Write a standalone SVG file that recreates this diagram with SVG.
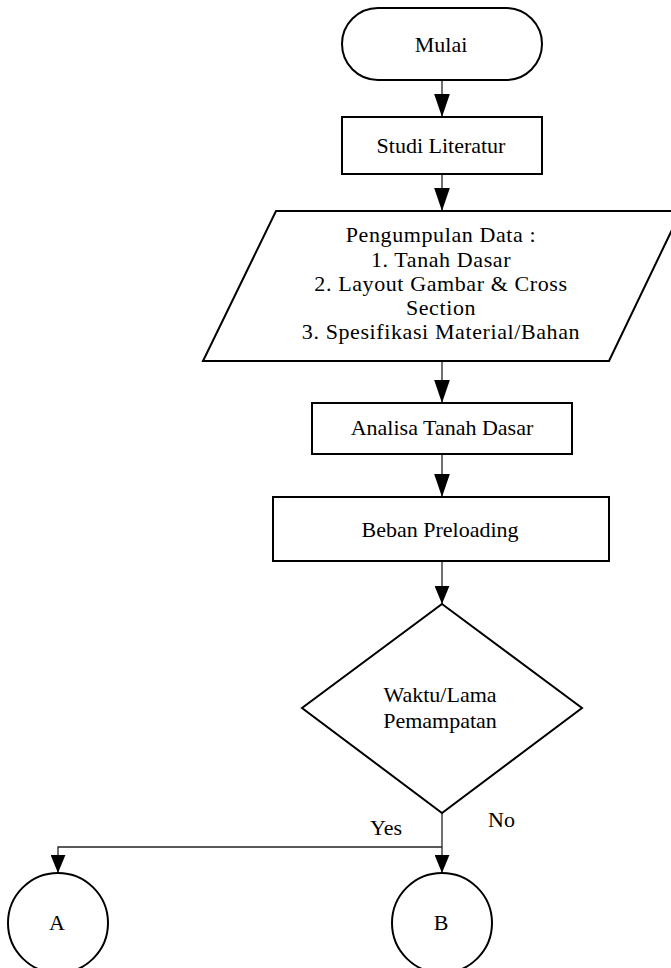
<svg xmlns="http://www.w3.org/2000/svg" width="671" height="968" viewBox="0 0 671 968">
<style>
.shape{fill:#fff;stroke:#000;stroke-width:2}
.conn{fill:none;stroke:#222;stroke-width:1.3}
.t{font-family:"Liberation Serif","Times New Roman",serif;font-size:22px;fill:#000;text-anchor:middle}
.ts{font-family:"Liberation Serif","Times New Roman",serif;font-size:22px;fill:#000}
.tp{letter-spacing:0.6px}
</style>
<defs>
<marker id="arr" markerUnits="userSpaceOnUse" markerWidth="16" markerHeight="23" refX="7.5" refY="22" viewBox="0 0 15 22">
<path d="M0,0 L15,0 L7.5,22 Z" fill="#000"/>
</marker>
<marker id="arrS" markerUnits="userSpaceOnUse" markerWidth="15" markerHeight="18" refX="7" refY="17" viewBox="0 0 14 17">
<path d="M0,0 L14,0 L7,17 Z" fill="#000"/>
</marker>
</defs>
<rect width="671" height="968" fill="#fff"/>
<g id="connectors">
<path class="conn" d="M442,80 V117" marker-end="url(#arr)"/>
<path class="conn" d="M442,174 V211" marker-end="url(#arr)"/>
<path class="conn" d="M442,361 V403" marker-end="url(#arr)"/>
<path class="conn" d="M442,454 V497" marker-end="url(#arr)"/>
<path class="conn" d="M442,561 V604" marker-end="url(#arrS)"/>
<path class="conn" d="M442,813 V873" marker-end="url(#arrS)"/>
<path class="conn" d="M442,847 H58 V873" marker-end="url(#arrS)"/>
<text class="ts" x="370" y="835">Yes</text>
<text class="ts" x="488" y="827">No</text>
</g>
<g id="mulai">
<rect class="shape" x="342" y="8" width="200" height="72" rx="36" ry="36"/>
<text class="t" x="441" y="52">Mulai</text>
</g>
<g id="studi">
<rect class="shape" x="342" y="117" width="200" height="57"/>
<text class="t" x="441" y="153">Studi Literatur</text>
</g>
<g id="pengumpulan">
<polygon class="shape" points="276,211 681,211 609,361 203,361"/>
<text class="t tp" x="441" y="242">Pengumpulan Data :</text>
<text class="t tp" x="441" y="267">1. Tanah Dasar</text>
<text class="t tp" x="441" y="291">2. Layout Gambar &amp; Cross</text>
<text class="t tp" x="441" y="315">Section</text>
<text class="t tp" x="441" y="339">3. Spesifikasi Material/Bahan</text>
</g>
<g id="analisa">
<rect class="shape" x="312" y="403" width="260" height="51"/>
<text class="t" x="442" y="435">Analisa Tanah Dasar</text>
</g>
<g id="beban">
<rect class="shape" x="273" y="497" width="336" height="64"/>
<text class="t" x="440" y="537">Beban Preloading</text>
</g>
<g id="waktu">
<polygon class="shape" points="442,604 582,708 442,813 302,708"/>
<text class="t" x="440" y="702">Waktu/Lama</text>
<text class="t" x="440" y="728">Pemampatan</text>
</g>
<g id="A">
<circle class="shape" cx="58" cy="923" r="50"/>
<text class="t" x="57" y="930">A</text>
</g>
<g id="B">
<circle class="shape" cx="442" cy="923" r="50"/>
<text class="t" x="441" y="930">B</text>
</g>
</svg>
